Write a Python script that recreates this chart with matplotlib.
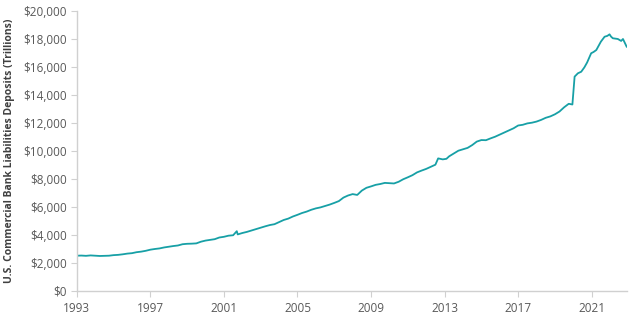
import matplotlib
matplotlib.use("Agg")
import matplotlib.pyplot as plt
from matplotlib.ticker import FuncFormatter

years = [1993.0, 1993.25, 1993.5, 1993.75, 1994.0, 1994.25, 1994.5, 1994.75,
         1995.0, 1995.25, 1995.5, 1995.75, 1996.0, 1996.25, 1996.5, 1996.75,
         1997.0, 1997.25, 1997.5, 1997.75, 1998.0, 1998.25, 1998.5, 1998.75,
         1999.0, 1999.25, 1999.5, 1999.75, 2000.0, 2000.25, 2000.5, 2000.75,
         2001.0, 2001.25, 2001.5, 2001.7, 2001.75, 2002.0, 2002.25, 2002.5, 2002.75,
         2003.0, 2003.25, 2003.5, 2003.75, 2004.0, 2004.25, 2004.5, 2004.75,
         2005.0, 2005.25, 2005.5, 2005.75, 2006.0, 2006.25, 2006.5, 2006.75,
         2007.0, 2007.25, 2007.5, 2007.75, 2008.0, 2008.25, 2008.5, 2008.75,
         2009.0, 2009.25, 2009.5, 2009.75, 2010.0, 2010.25, 2010.5, 2010.75,
         2011.0, 2011.25, 2011.5, 2011.75, 2012.0, 2012.25, 2012.5, 2012.65, 2012.9,
         2013.1, 2013.25, 2013.5, 2013.75, 2014.0, 2014.25, 2014.5, 2014.75,
         2015.0, 2015.25, 2015.5, 2015.75, 2016.0, 2016.25, 2016.5, 2016.75,
         2017.0, 2017.25, 2017.5, 2017.75, 2018.0, 2018.25, 2018.5, 2018.75,
         2019.0, 2019.25, 2019.5, 2019.75, 2019.95, 2020.07, 2020.25, 2020.43,
         2020.6, 2020.75, 2020.97, 2021.1, 2021.25, 2021.5, 2021.7, 2021.85,
         2021.97, 2022.05, 2022.15, 2022.3, 2022.42, 2022.6, 2022.7, 2022.8, 2022.9]

deposits = [2500, 2510, 2490, 2520, 2500, 2480, 2490, 2500,
            2540, 2560, 2600, 2650, 2680, 2750, 2790, 2850,
            2930, 2980, 3020, 3090, 3140, 3190, 3230, 3320,
            3350, 3360, 3380, 3500, 3580, 3630, 3680, 3800,
            3850, 3930, 3960, 4250, 4020, 4120, 4200, 4300, 4400,
            4500, 4600, 4690, 4750, 4900, 5050, 5150, 5300,
            5420, 5550, 5650, 5780, 5880, 5950, 6050, 6150,
            6270, 6400, 6650, 6800, 6900, 6840, 7150, 7350,
            7450, 7560, 7620, 7700, 7680, 7660, 7780, 7960,
            8100, 8250, 8450, 8580, 8700, 8850, 9000, 9450, 9380,
            9420, 9600, 9800, 10000, 10100, 10200, 10400, 10650,
            10760, 10750, 10880, 11000, 11150, 11300, 11450, 11600,
            11800, 11850, 11950, 12000, 12080, 12200, 12350, 12450,
            12600, 12800, 13100, 13350, 13300, 15290, 15530, 15640,
            15950, 16300, 16960, 17050, 17190, 17790, 18140, 18200,
            18310, 18150, 18030, 18000, 17980, 17840, 17980, 17700, 17430]

x_ticks = [1993, 1997, 2001, 2005, 2009, 2013, 2017, 2021]
y_ticks = [0, 2000, 4000, 6000, 8000, 10000, 12000, 14000, 16000, 18000, 20000]

plt.rcParams['font.family'] = ['Open Sans', 'DejaVu Sans']

fig = plt.figure(figsize=(6.4, 3.21), dpi=100)
ax = fig.add_axes([0.120, 0.0944, 0.860, 0.8723])

ax.plot(years, deposits, color='#17a0a6', linewidth=1.3)

ax.set_xlim(1993, 2022.93)
ax.set_ylim(0, 20000)
ax.set_xticks(x_ticks)
ax.set_xticklabels([str(t) for t in x_ticks])
ax.set_yticks(y_ticks)
ax.yaxis.set_major_formatter(FuncFormatter(lambda v, p: "${:,.0f}".format(v)))

for s in ['top', 'right']:
    ax.spines[s].set_visible(False)
for s in ['left', 'bottom']:
    ax.spines[s].set_color('#d0d0d0')
    ax.spines[s].set_linewidth(1.0)

ax.tick_params(axis='both', colors='#d0d0d0', labelcolor='#595959', labelsize=8.5,
               length=4, width=0.8)
ax.tick_params(axis='x', pad=4)
ax.tick_params(axis='y', pad=3)

ax.set_ylabel('U.S. Commercial Bank Liabilities Deposits (Trillions)',
              fontsize=7.5, fontweight='bold', color='#404040', labelpad=6)

fig.savefig('out.png', dpi=100)
